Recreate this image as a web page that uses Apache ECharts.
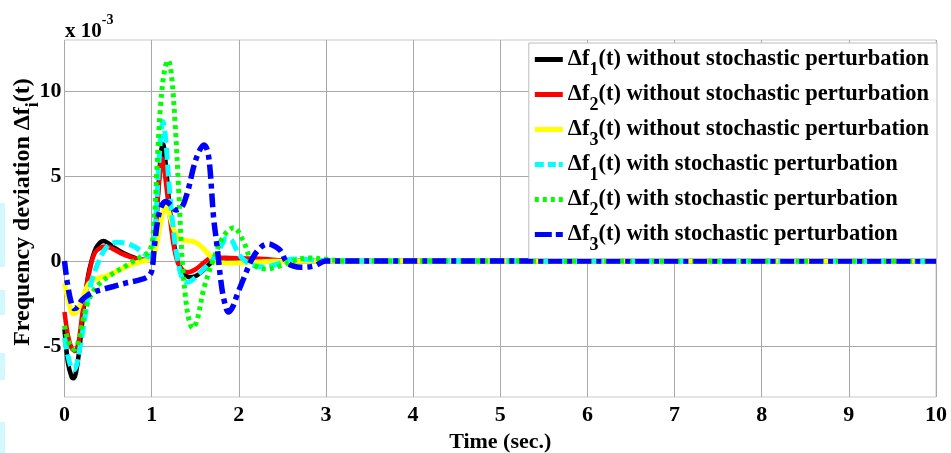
<!DOCTYPE html>
<html>
<head>
<meta charset="utf-8">
<script src="https://cdn.jsdelivr.net/npm/echarts@6/dist/echarts.min.js"></script>
<style>
html,body{margin:0;padding:0;background:#fff;}
#chart{width:951px;height:453px;}
</style>
</head>
<body>
<div id="chart"></div>
<script>
// ---- data (values in units of 1e-3) ----
var tail = [4, 5, 6, 7, 8, 9, 10];
var tailV = [0, 0, 0, 0, 0, 0, 0];

var f1WithoutT = [0, 0.04, 0.08, 0.1, 0.13, 0.17, 0.22, 0.27, 0.31, 0.36, 0.41, 0.45, 0.5, 0.58, 0.68, 0.8, 0.92, 1.0, 1.04, 1.08, 1.11, 1.13, 1.16, 1.2, 1.25, 1.3, 1.36, 1.43, 1.5, 1.58, 1.66, 1.75, 1.9, 2.1, 2.4, 2.7, 3];
var f1WithoutV = [-4.0, -6.0, -6.8, -6.9, -6.6, -5.2, -2.8, -0.9, 0.0, 0.75, 1.1, 1.18, 1.05, 0.75, 0.45, 0.2, 0.05, 0.05, 1.5, 4.5, 6.5, 6.9, 5.8, 3.5, 1.2, 0.0, -0.65, -0.95, -0.9, -0.6, -0.2, 0.1, 0.12, 0.08, 0.03, 0.0, 0];

var f2WithoutT = [0, 0.04, 0.08, 0.12, 0.16, 0.2, 0.25, 0.3, 0.35, 0.42, 0.48, 0.56, 0.65, 0.75, 0.85, 1.0, 1.04, 1.08, 1.12, 1.15, 1.2, 1.25, 1.3, 1.36, 1.42, 1.5, 1.6, 1.7, 1.9, 2.1, 2.3, 2.5, 3];
var f2WithoutV = [-3.0, -4.4, -5.1, -5.3, -4.8, -3.3, -1.6, -0.3, 0.5, 0.8, 0.85, 0.7, 0.45, 0.25, 0.1, 0.05, 1.5, 4.3, 6.05, 5.2, 3.0, 1.0, -0.1, -0.55, -0.66, -0.5, -0.1, 0.2, 0.18, 0.15, 0.12, 0.02, 0];

var f3WithoutT = [0, 0.05, 0.1, 0.14, 0.2, 0.26, 0.32, 0.4, 0.5, 0.6, 0.7, 0.8, 0.9, 1.0, 1.05, 1.1, 1.14, 1.17, 1.21, 1.26, 1.32, 1.4, 1.5, 1.58, 1.66, 1.75, 1.9, 2.1, 2.4, 3];
var f3WithoutV = [-1.3, -2.4, -3.1, -3.0, -2.3, -1.5, -1.15, -1.0, -0.85, -0.6, -0.35, -0.15, 0.0, 0.1, 0.8, 2.2, 3.0, 3.2, 2.6, 1.8, 1.3, 1.2, 1.1, 0.8, 0.35, -0.05, -0.12, -0.08, -0.02, 0];

var f1WithT = [0, 0.04, 0.08, 0.11, 0.14, 0.18, 0.22, 0.29, 0.37, 0.48, 0.6, 0.7, 0.8, 0.9, 0.97, 1.0, 1.04, 1.08, 1.11, 1.13, 1.16, 1.2, 1.25, 1.3, 1.35, 1.4, 1.46, 1.55, 1.65, 1.72, 1.8, 1.86, 1.92, 2.0, 2.1, 2.2, 2.3, 2.4, 2.5, 2.62, 2.75, 2.9, 3.1];
var f1WithV = [-4.5, -5.6, -6.3, -6.4, -6.1, -5.0, -3.8, -1.6, -0.3, 0.8, 1.1, 1.05, 0.85, 0.5, 0.25, 0.4, 2.0, 5.5, 7.7, 8.2, 7.2, 4.5, 1.8, 0.0, -1.0, -1.25, -1.15, -0.7, -0.2, 0.2, 0.9, 1.35, 1.2, 0.4, -0.1, -0.3, -0.35, -0.25, -0.05, 0.12, 0.1, 0.05, 0];

var f2WithT = [0, 0.03, 0.07, 0.11, 0.15, 0.2, 0.27, 0.37, 0.52, 0.71, 0.87, 0.98, 1.03, 1.06, 1.1, 1.15, 1.19, 1.23, 1.27, 1.31, 1.35, 1.39, 1.43, 1.47, 1.52, 1.6, 1.71, 1.83, 1.94, 2.05, 2.15, 2.23, 2.32, 2.48, 2.63, 2.8, 3.0, 3.2];
var f2WithV = [-3.8, -4.5, -5.0, -5.2, -4.9, -3.8, -2.4, -1.5, -0.86, -0.27, 0.23, 0.6, 2.5, 5.4, 9.0, 11.3, 11.8, 10.8, 8.0, 4.2, 0.1, -2.2, -3.5, -3.95, -3.5, -1.6, 0.1, 1.5, 1.96, 1.2, -0.1, -0.4, -0.47, -0.27, 0.02, 0.18, 0.1, 0];

var f3WithT = [0, 0.03, 0.07, 0.11, 0.15, 0.2, 0.27, 0.35, 0.45, 0.56, 0.7, 0.83, 0.95, 1.0, 1.03, 1.07, 1.11, 1.16, 1.22, 1.28, 1.33, 1.37, 1.43, 1.48, 1.54, 1.6, 1.64, 1.67, 1.71, 1.75, 1.8, 1.84, 1.88, 1.93, 1.98, 2.07, 2.15, 2.25, 2.34, 2.42, 2.48, 2.55, 2.63, 2.71, 2.86, 3.0, 3.2];
var f3WithV = [0, -1.2, -2.3, -2.8, -2.7, -2.3, -2.0, -1.8, -1.65, -1.5, -1.3, -1.15, -0.95, -0.6, 0.8, 2.4, 3.2, 3.5, 3.3, 3.0, 3.1, 3.4, 4.4, 5.5, 6.4, 6.83, 6.5, 5.4, 2.6, 0.9, -1.4, -2.5, -3.0, -2.7, -2.0, -0.85, 0.1, 0.8, 1.0, 0.85, 0.6, -0.08, -0.3, -0.37, -0.3, 0, 0];

var xTicks = [0, 1, 2, 3, 4, 5, 6, 7, 8, 9, 10];
var yTicks = [-5, 0, 5, 10];

var seriesNames = [
  '{a|Δf}{s|1}{a|(t) without stochastic perturbation}',
  '{a|Δf}{s|2}{a|(t) without stochastic perturbation}',
  '{a|Δf}{s|3}{a|(t) without stochastic perturbation}',
  '{a|Δf}{s|1}{a|(t) with stochastic perturbation}',
  '{a|Δf}{s|2}{a|(t) with stochastic perturbation}',
  '{a|Δf}{s|3}{a|(t) with stochastic perturbation}'
];

function pairs(t, v) {
  var out = [];
  for (var i = 0; i < t.length; i++) out.push([t[i], v[i]]);
  for (var j = 0; j < tail.length; j++) out.push([tail[j], tailV[j]]);
  return out;
}

var FONT = "'Liberation Serif', 'Times New Roman', serif";

var styles = [
  {color: '#000000', width: 4.5, type: 'solid', icon: 'path://M0,0H28V5H0Z'},
  {color: '#ff0000', width: 4.5, type: 'solid', icon: 'path://M0,0H28V5H0Z'},
  {color: '#ffff00', width: 5, type: 'solid', icon: 'path://M0,0H28V5H0Z'},
  {color: '#00ffff', width: 5, type: [12, 5], icon: 'path://M0,0H9V5H0Z M13,0H21V5H13Z M24,0H28V5H24Z'},
  {color: '#00ff00', width: 5, type: [4, 4], icon: 'path://M0,0H4V5H0Z M8,0H12V5H8Z M16,0H20V5H16Z M24,0H28V5H24Z'},
  {color: '#0000ff', width: 5.5, type: [14, 5, 5, 5], icon: 'path://M0,0H17V5H0Z M21,0H28V5H21Z'}
];
var dataSets = [
  pairs(f1WithoutT, f1WithoutV),
  pairs(f2WithoutT, f2WithoutV),
  pairs(f3WithoutT, f3WithoutV),
  pairs(f1WithT, f1WithV),
  pairs(f2WithT, f2WithV),
  pairs(f3WithT, f3WithV)
];

var series = dataSets.map(function (d, i) {
  return {
    name: seriesNames[i],
    type: 'line',
    data: d,
    smooth: 0.35,
    symbol: 'none',
    animation: false,
    color: styles[i].color,
    itemStyle: {color: styles[i].color},
    lineStyle: {color: styles[i].color, width: styles[i].width, type: styles[i].type, cap: 'butt'}
  };
});

var richMain = {fontFamily: FONT, fontWeight: 'bold', fontSize: 22.5, color: '#000', fill: '#000', lineHeight: 27};
var richSub = {fontFamily: FONT, fontWeight: 'bold', fontSize: 18, color: '#000', fill: '#000', lineHeight: 27, padding: [0, 0, -22, 0]};

var chart = echarts.init(document.getElementById('chart'));
chart.setOption({
  backgroundColor: '#ffffff',
  animation: false,
  grid: {left: 64.5, right: 15, top: 40, bottom: 56, show: true, borderColor: '#c8c8c8', borderWidth: 1, backgroundColor: '#ffffff', containLabel: false, outerBoundsMode: 'none'},
  legend: {
    orient: 'vertical',
    right: 14,
    top: 43,
    padding: [5, 8, 4, 6],
    itemGap: 3.5,
    itemWidth: 28,
    itemHeight: 5,
    backgroundColor: '#ffffff',
    borderColor: '#bdbdbd',
    borderWidth: 1,
    data: seriesNames.map(function (n, i) { return {name: n, icon: styles[i].icon, itemStyle: {color: styles[i].color}}; }),
    textStyle: {fontFamily: FONT, rich: {a: richMain, s: richSub}}
  },
  xAxis: {
    type: 'value',
    min: 0, max: 10, interval: 1,
    name: 'Time (sec.)',
    nameLocation: 'middle',
    nameGap: 29,
    nameTextStyle: {fontFamily: FONT, fontWeight: 'bold', fontSize: 22, color: '#000'},
    axisLine: {show: false},
    axisTick: {show: false},
    axisLabel: {fontFamily: FONT, fontWeight: 'bold', fontSize: 22, color: '#000', margin: 7},
    splitLine: {show: true, lineStyle: {color: '#a8a8a8', width: 1}}
  },
  yAxis: {
    type: 'value',
    min: -8, max: 13,
    axisLine: {show: false},
    axisTick: {show: false, customValues: yTicks},
    axisLabel: {fontFamily: FONT, fontWeight: 'bold', fontSize: 22, color: '#000', margin: 3, customValues: yTicks},
    splitLine: {show: true, lineStyle: {color: '#a8a8a8', width: 1}}
  },
  graphic: [
    {type: 'text', x: 23, y: 212, rotation: Math.PI / 2, style: {
      text: '{a|Frequency deviation Δf}{s|i}{a|(t)}',
      align: 'center', verticalAlign: 'middle',
      rich: {
        a: {fontFamily: FONT, fontWeight: 'bold', fontSize: 24, fill: '#000', lineHeight: 28},
        s: {fontFamily: FONT, fontWeight: 'bold', fontSize: 18, fill: '#000', lineHeight: 28, padding: [20, 0, 0, 0]}
      }
    }},
    {type: 'text', left: 65, top: 11, style: {text: '{a|x 10}{b|-3}', rich: {
      a: {fontFamily: FONT, fontWeight: 'bold', fontSize: 21, fill: '#000', lineHeight: 26, padding: [10, 0, 0, 0]},
      b: {fontFamily: FONT, fontWeight: 'bold', fontSize: 14, fill: '#000', lineHeight: 26, padding: [0, 0, 12, 0]}
    }}},
    {type: 'rect', shape: {x: 0, y: 203, width: 5, height: 64}, style: {fill: '#d2f7fd'}},
    {type: 'rect', shape: {x: 0, y: 290, width: 5, height: 25}, style: {fill: '#d2f7fd'}},
    {type: 'rect', shape: {x: 0, y: 353, width: 5, height: 27}, style: {fill: '#d2f7fd'}},
    {type: 'rect', shape: {x: 0, y: 422, width: 5, height: 31}, style: {fill: '#d2f7fd'}}
  ],
  series: series
});
</script>
</body>
</html>
